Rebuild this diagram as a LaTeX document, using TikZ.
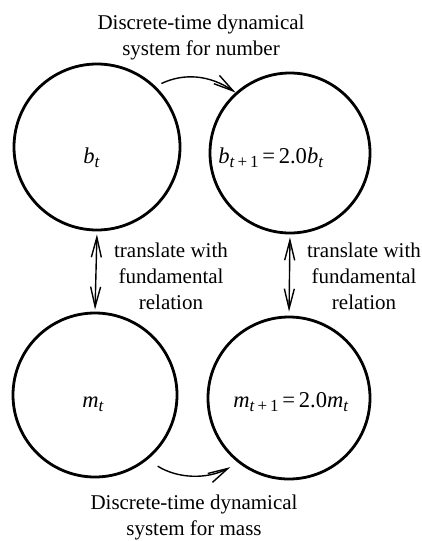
\documentclass[tikz,border=0pt]{standalone}
\usepackage{fontspec}
\setmainfont{Liberation Serif}
\usetikzlibrary{arrows.meta}
\newcommand{\isub}[1]{\raisebox{-0.45ex}{\fontsize{8.5}{9}\selectfont #1}}
\begin{document}
\begin{tikzpicture}[x=0.5pt,y=-0.5pt,
  state/.style={circle,draw,line width=1.4pt,inner sep=0pt},
  lbl/.style={align=center,font=\fontsize{10.5}{13}\selectfont,inner sep=0pt},
  eq/.style={font=\fontsize{11.3}{13}\selectfont,inner sep=0pt,anchor=base west},
  conn/.style={line width=0.7pt,-{Straight Barb[length=10pt,width=5pt]}},
  both/.style={line width=0.7pt,{Straight Barb[length=10pt,width=5pt]}-{Straight Barb[length=10pt,width=5pt]}}]
\useasboundingbox (0,0) rectangle (422,541);
% circles
\node[state,minimum size=83pt] (bt) at (97,147) {};
\node[state,minimum size=80pt] (bt1) at (290,153) {};
\node[state,minimum size=82pt] (mt) at (95,395) {};
\node[state,minimum size=81pt] (mt1) at (289,398) {};
% contents
\node[eq] (btx) at (83,163) {\textit{b}\isub{\textit{t}}};
\node[eq] (bt1x) at (218,163) {\textit{b}\isub{\textit{t}\,+\,1}\,=\,2.0\textit{b}\isub{\textit{t}}};
\node[eq] (mtx) at (82,407) {\textit{m}\isub{\textit{t}}};
\node[eq] (mt1x) at (233,407) {\textit{m}\isub{\textit{t}\,+\,1}\,=\,2.0\textit{m}\isub{\textit{t}}};
% labels
\node[lbl] (top) at (201,37) {Discrete-time dynamical\\system for number};
\node[lbl] (bot) at (194,517) {Discrete-time dynamical\\system for mass};
\node[lbl] (tl) at (171,276) {translate with\\fundamental\\relation};
\node[lbl] (tr) at (364,276) {translate with\\fundamental\\relation};
% connectors
\draw[conn,shorten <=3.2pt] (bt.46) to[bend left=30] (bt1.132);
\draw[conn,shorten <=6pt,shorten >=4.5pt] (mt.-51) to[bend right=30] (mt1.-128);
\draw[both,shorten <=1.5pt,shorten >=1pt] (bt.south) -- (mt.north);
\draw[both,shorten <=1.5pt,shorten >=2pt] (bt1.south) -- (mt1.north);
\end{tikzpicture}
\end{document}
